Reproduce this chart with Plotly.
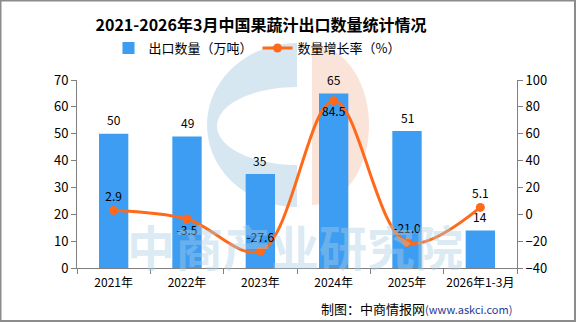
import math
import plotly.graph_objects as go

categories = ["2021年", "2022年", "2023年", "2024年", "2025年", "2026年1-3月"]
export_volume = [50, 49, 35, 65, 51, 14]
growth_rate = [2.9, -3.5, -27.6, 84.5, -21.0, 5.1]
growth_text_pos = ["top center", "bottom center", "top center", "bottom center", "top center", "top center"]

FONT = "Noto Sans CJK SC, DejaVu Sans, sans-serif"
BAR_COLOR = "#3d9df2"
LINE_COLOR = "#ff6a1a"

W, H = 576, 322
ML, MR, MT, MB = 77, 59, 80, 54
PW, PH = W - ML - MR, H - MT - MB


def px(xp):
    return (xp - ML) / PW


def py(yp):
    return (H - MB - yp) / PH


def arc(cx, cy, rx, ry, a0, a1, n=40):
    pts = []
    for i in range(n + 1):
        a = math.radians(a0 + (a1 - a0) * i / n)
        pts.append((px(cx + rx * math.cos(a)), py(cy - ry * math.sin(a))))
    return pts


def path_from(pts):
    return "M " + " L ".join(f"{x:.4f},{y:.4f}" for x, y in pts) + " Z"


fig = go.Figure()

# logo watermark (blue C + orange half disc)
blue_pts = arc(297, 125, 90, 82, 90, 270) + arc(297, 126, 80, 39, 270, 90)
fig.add_shape(type="path", xref="paper", yref="paper", path=path_from(blue_pts),
              fillcolor="rgba(175,208,228,0.5)", line=dict(width=0), layer="below")
orange_pts = arc(312, 125, 57, 80, 90, -90)
fig.add_shape(type="path", xref="paper", yref="paper", path=path_from(orange_pts),
              fillcolor="rgba(246,200,178,0.5)", line=dict(width=0), layer="below")

fig.add_trace(go.Bar(
    x=categories, y=export_volume, name="出口数量（万吨）",
    marker=dict(color=BAR_COLOR, line=dict(width=0)), width=0.4,
    yaxis="y", cliponaxis=False,
))
for c, v in zip(categories, export_volume):
    fig.add_annotation(x=c, y=v, xref="x", yref="y", text=str(v), showarrow=False,
                       yshift=14, font=dict(size=12, color="#000000", family=FONT))

fig.add_trace(go.Scatter(
    x=categories, y=growth_rate, name="数量增长率（%）", yaxis="y2",
    mode="lines+markers+text",
    line=dict(color=LINE_COLOR, width=3, shape="spline", smoothing=1.0),
    marker=dict(color=LINE_COLOR, size=9),
    text=[f"{v:.1f}" for v in growth_rate], textposition=growth_text_pos,
    textfont=dict(size=12, color="#000000", family=FONT),
    cliponaxis=False,
))

# watermark text
fig.add_annotation(text="<b>中商产业研究院</b>", x=px(295), y=py(245), xref="paper", yref="paper",
                   showarrow=False, font=dict(size=48, color="rgba(170,205,228,0.42)", family=FONT),
                   xanchor="center", yanchor="middle")

fig.add_annotation(text="制图：中商情报网<span style='color:#1f3a93;font-size:11px'>(www.askci.com)</span>",
                   x=px(514), y=py(308), xref="paper", yref="paper", xanchor="right", yanchor="middle",
                   showarrow=False, font=dict(size=13, color="#000000", family=FONT))

fig.update_layout(
    width=W, height=H,
    margin=dict(l=ML, r=MR, t=MT, b=MB, autoexpand=False),
    paper_bgcolor="white", plot_bgcolor="rgba(0,0,0,0)",
    font=dict(family=FONT, size=13, color="#000000"),
    title=dict(text="<b>2021-2026年3月中国果蔬汁出口数量统计情况</b>", x=261 / W, xanchor="center",
               y=1 - 25 / H, yanchor="middle", font=dict(size=16, color="#000000", family=FONT)),
    legend=dict(orientation="h", x=px(257), xanchor="center", y=py(48), yanchor="middle",
                font=dict(size=13, family=FONT), itemwidth=30, bgcolor="rgba(0,0,0,0)"),
    xaxis=dict(showline=True, linecolor="#808080", linewidth=1, ticks="outside",
               tickcolor="#808080", ticklen=5, tickson="boundaries", showgrid=False,
               tickfont=dict(size=12), range=[-0.5, 5.5], tickangle=0, automargin=False,
               ticklabelstandoff=4),
    yaxis=dict(range=[0, 70], dtick=10, showline=True, linecolor="#808080", linewidth=1,
               ticks="outside", tickcolor="#808080", ticklen=5, showgrid=False, zeroline=False,
               tickfont=dict(size=13), automargin=False),
    yaxis2=dict(range=[-40, 100], dtick=20, overlaying="y", side="right", showline=True,
                linecolor="#808080", linewidth=1, ticks="outside", tickcolor="#808080",
                ticklen=5, showgrid=False, zeroline=False, tickfont=dict(size=13), automargin=False),
    showlegend=True,
)
fig.add_shape(type="rect", xref="paper", yref="paper", x0=px(0.5), x1=px(W - 1), y0=py(H - 1), y1=py(0.5),
              line=dict(color="#8c8c8c", width=2), fillcolor="rgba(0,0,0,0)")

fig.write_html("out.html")
